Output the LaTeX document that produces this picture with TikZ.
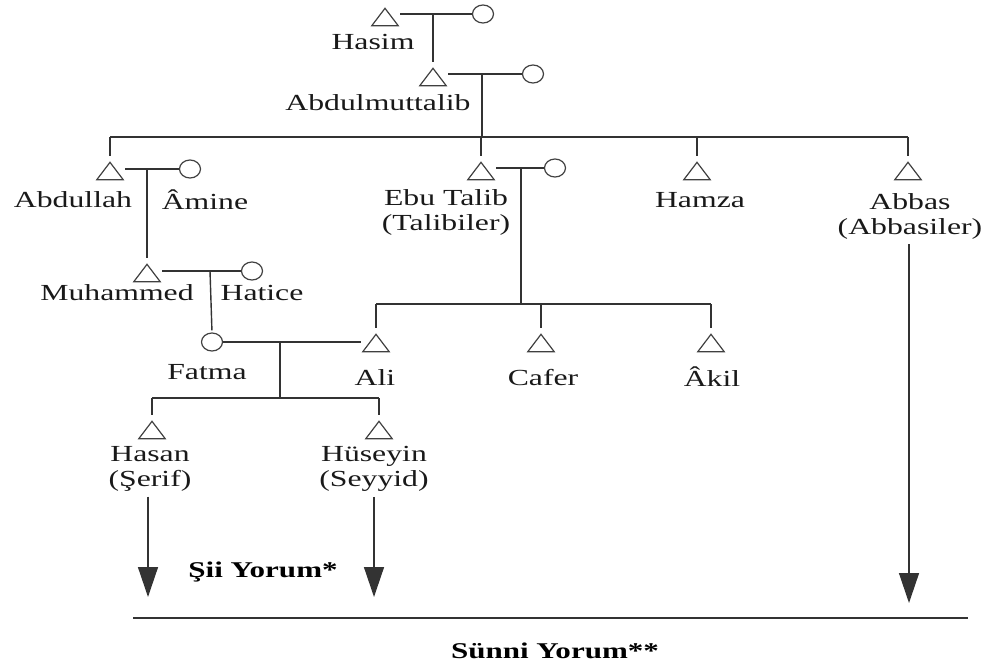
\documentclass[tikz,border=0pt]{standalone}
\usepackage{fontspec}
\setmainfont{Liberation Serif}
\usetikzlibrary{shapes.geometric,arrows.meta}
\begin{document}
\begin{tikzpicture}[x=1pt,y=-1pt,
  kin/.style={draw=black!80,line width=1.4pt},
  drop/.style={kin,shorten >=6pt},
  tri/.style={rectangle,minimum width=26pt,minimum height=17pt,inner sep=0pt},
  triline/.style={draw=black!75,line width=1.2pt,line join=miter},
  fem/.style={ellipse,draw=black!75,line width=1.2pt,minimum width=21pt,minimum height=18pt,inner sep=0pt},
  lab/.style={font=\fontsize{23}{25}\selectfont,xscale=1.38,inner sep=1pt,align=center,text=black!90},
  yorum/.style={font=\fontsize{22.5}{25}\selectfont\bfseries,xscale=1.38,inner sep=1pt,text=black},
  flow/.style={kin,-{Triangle[width=20pt,length=30pt]}}]
\useasboundingbox (0,0) rectangle (992,664);

% ---- Hasim and his wife
\node[tri] (tHasim) at (385,17) {};
\node[fem] (cHasim) at (483,14) {};
\coordinate (mHasim) at (433,14);
\node[lab] (lHasim) at (373,42) {Hasim};
\draw[kin,shorten <=2pt] (tHasim.east |- cHasim.west) -- (cHasim.west);

% ---- Abdulmuttalib
\node[tri] (tAbd) at (433,77) {};
\node[fem] (cAbd) at (533,74) {};
\coordinate (mAbd) at (482,74);
\node[lab] (lAbd) at (378,103) {Abdulmuttalib};
\draw[kin,shorten <=2pt] (tAbd.east |- cAbd.west) -- (cAbd.west);
\draw[drop] (mHasim) -- (tAbd.north);

% ---- children of Abdulmuttalib
\coordinate (bar0) at (0,137);
\node[tri] (tAbdullah) at (110,171) {};
\node[tri] (tEbu) at (481,171) {};
\node[tri] (tHamza) at (697,171) {};
\node[tri] (tAbbas) at (908,171) {};
\draw[kin] (mAbd) -- (mAbd |- bar0);
\draw[kin] (tAbdullah |- bar0) -- (tAbbas |- bar0);
\foreach \n in {tAbdullah,tEbu,tHamza,tAbbas}
  \draw[drop] (\n |- bar0) -- (\n.north);

\node[fem] (cAmine) at (190,169) {};
\coordinate (mAbdullah) at (147,169);
\draw[kin,shorten <=2pt] (tAbdullah.east |- cAmine.west) -- (cAmine.west);
\node[lab] (lAbdullah) at (73,200) {Abdullah};
\node[lab] (lAmine) at (205,200) {Âmine};

\node[fem] (cEbu) at (555,168) {};
\coordinate (mEbu) at (521,168);
\draw[kin,shorten <=2pt] (tEbu.east |- cEbu.west) -- (cEbu.west);
\node[lab] (lEbu) at (446,212) {Ebu Talib\\(Talibiler)};

\node[lab] (lHamza) at (700,200) {Hamza};
\node[lab] (lAbbas) at (910,216) {Abbas\\(Abbasiler)};

% ---- Muhammed and Hatice
\node[tri] (tMuh) at (147,273) {};
\node[fem] (cHatice) at (252,271) {};
\coordinate (mMuh) at (210,271);
\draw[kin,shorten <=2pt] (tMuh.east |- cHatice.west) -- (cHatice.west);
\draw[drop] (mAbdullah) -- (tMuh.north);
\node[lab] (lMuh) at (117,293) {Muhammed};
\node[lab] (lHatice) at (262,293) {Hatice};

% ---- children of Ebu Talib
\coordinate (bar1) at (0,304);
\node[tri] (tAli) at (376,343) {};
\node[tri] (tCafer) at (541,343) {};
\node[tri] (tAkil) at (711,343) {};
\draw[kin] (mEbu) -- (mEbu |- bar1);
\draw[kin] (tAli |- bar1) -- (tAkil |- bar1);
\foreach \n in {tAli,tCafer,tAkil}
  \draw[drop] (\n |- bar1) -- (\n.north);
\node[lab] (lAli) at (375,378) {Ali};
\node[lab] (lCafer) at (543,378) {Cafer};
\node[lab] (lAkil) at (712,377) {Âkil};

% ---- Fatma and Ali
\node[fem] (cFatma) at (212,342) {};
\draw[drop,shorten >=2pt] (mMuh) -- (cFatma.north);
\coordinate (mFatma) at (280,342);
\draw[kin,shorten >=2pt] (cFatma.east) -- (tAli.west |- cFatma.east);
\node[lab] (lFatma) at (207,372) {Fatma};

% ---- Hasan and Hüseyin
\coordinate (bar2) at (0,398);
\node[tri] (tHasan) at (152,430) {};
\node[tri] (tHuseyin) at (379,430) {};
\draw[kin] (mFatma) -- (mFatma |- bar2);
\draw[kin] (tHasan |- bar2) -- (tHuseyin |- bar2);
\foreach \n in {tHasan,tHuseyin}
  \draw[drop] (\n |- bar2) -- (\n.north);
\node[lab] (lHasan) at (150,469) {Hasan\\(Şerif)};
\node[lab] (lHuseyin) at (374,469) {Hüseyin\\(Seyyid)};

% triangle outlines of the male figures
\foreach \n in {tHasim,tAbd,tAbdullah,tEbu,tHamza,tAbbas,tMuh,tAli,tCafer,tAkil,tHasan,tHuseyin}
  \draw[triline] (\n.south west) -- (\n.north) -- (\n.south east) -- cycle;

% ---- lines of descent
\coordinate (eHasan) at (148,597);
\coordinate (eHuseyin) at (374,597);
\coordinate (eAbbas) at (909,603);
\draw[flow] (lHasan.south -| eHasan) ++(0,4) -- (eHasan);
\draw[flow] (lHuseyin.south -| eHuseyin) ++(0,4) -- (eHuseyin);
\draw[flow] (lAbbas.south -| eAbbas) ++(0,4) -- (eAbbas);

\node[yorum] (sii) at (263,572) {Şii Yorum*};

\coordinate (sL) at (133,618);
\coordinate (sR) at (968,618);
\draw[kin] (sL) -- (sR);
\node[yorum] (sunni) at (555,651) {Sünni Yorum**};
\end{tikzpicture}
\end{document}
